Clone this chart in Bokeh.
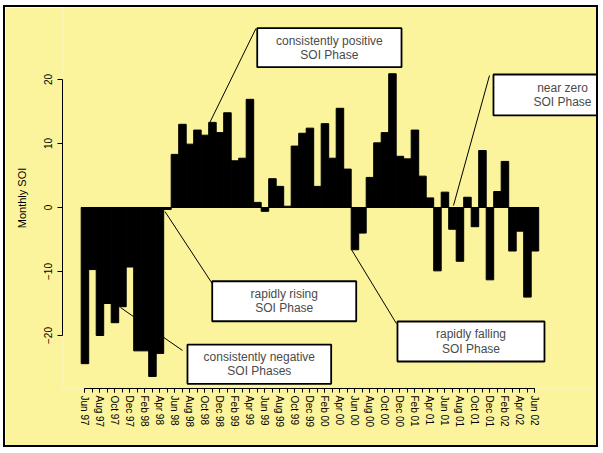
from bokeh.plotting import figure
from bokeh.models import Range1d, FixedTicker, ColumnDataSource
from bokeh.core.properties import value
from bokeh.embed import file_html
from bokeh.resources import INLINE

# ---------------- data ----------------
months = ["Jun 97", "Jul 97", "Aug 97", "Sep 97", "Oct 97", "Nov 97", "Dec 97",
          "Jan 98", "Feb 98", "Mar 98", "Apr 98", "May 98", "Jun 98", "Jul 98",
          "Aug 98", "Sep 98", "Oct 98", "Nov 98", "Dec 98",
          "Jan 99", "Feb 99", "Mar 99", "Apr 99", "May 99", "Jun 99", "Jul 99",
          "Aug 99", "Sep 99", "Oct 99", "Nov 99", "Dec 99",
          "Jan 00", "Feb 00", "Mar 00", "Apr 00", "May 00", "Jun 00", "Jul 00",
          "Aug 00", "Sep 00", "Oct 00", "Nov 00", "Dec 00",
          "Jan 01", "Feb 01", "Mar 01", "Apr 01", "May 01", "Jun 01", "Jul 01",
          "Aug 01", "Sep 01", "Oct 01", "Nov 01", "Dec 01",
          "Jan 02", "Feb 02", "Mar 02", "Apr 02", "May 02", "Jun 02"]

soi = [-24.4, -9.7, -20.0, -15.0, -18.0, -15.5, -9.3,
       -22.4, -22.4, -26.4, -22.8, -0.3, 8.3, 13.0,
       9.9, 12.1, 11.3, 13.3, 11.7,
       14.8, 7.3, 7.7, 16.9, 0.8, -0.6, 4.5,
       3.3, 0.2, 9.6, 11.6, 12.4,
       3.3, 13.1, 7.7, 15.5, 6.0, -6.6, -4.0,
       4.7, 10.1, 11.7, 20.9, 8.0,
       7.6, 12.1, 4.9, 1.5, -9.9, 2.4, -3.4,
       -8.4, 1.6, -3.0, 8.9, -11.3,
       2.5, 7.2, -6.8, -3.7, -14.0, -6.8]

tick_labels = ["Jun 97", "Aug 97", "Oct 97", "Dec 97", "Feb 98", "Apr 98",
               "Jun 98", "Aug 98", "Oct 98", "Dec 98", "Feb 99", "Apr 99",
               "Jun 99", "Aug 99", "Oct 99", "Dec 99", "Feb 00", "Apr 00",
               "Jun 00", "Aug 00", "Oct 00", "Dec 00", "Feb 01", "Apr 01",
               "Jun 01", "Aug 01", "Oct 01", "Dec 01", "Feb 02", "Apr 02",
               "Jun 02"]

y_ticks = [-20, -10, 0, 10, 20]

# annotation boxes: (left, right, bottom, top, line1, line2, text_x)
notes = [
    (22.97, 42.21, 21.92, 28.02, "consistently positive", "SOI Phase", None),
    (54.47, 77.14, 14.38, 20.78, "near zero", "SOI Phase", 63.67),
    (16.97, 36.17, -17.77, -11.52, "rapidly rising", "SOI Phase", None),
    (13.67, 32.83, -27.55, -21.41, "consistently negative", "SOI Phases", None),
    (41.67, 61.27, -24.06, -17.81, "rapidly falling", "SOI Phase", None),
]
# leader lines: (x0, y0, x1, y1)
leaders = [
    (22.80, 27.97, 16.65, 13.28),
    (53.94, 20.63, 49.14, 0.31),
    (10.67, -0.63, 16.97, -11.88),
    (4.74, -15.63, 13.01, -22.34),
    (35.53, -6.56, 41.53, -18.13),
]

YELLOW = "#FBF49C"
FONT = "Liberation Sans"

idx = list(range(len(soi)))

p = figure(width=595, height=442, output_backend="svg", toolbar_location=None,
           x_range=Range1d(-2.993, 68.74), y_range=Range1d(-28.28, 31.25),
           min_border_left=57, min_border_right=0, min_border_top=0,
           min_border_bottom=61)
p.background_fill_color = YELLOW
p.border_fill_color = YELLOW
p.outline_line_color = None
p.xgrid.visible = False
p.ygrid.visible = False
p.styles = {"border": "2px solid black", "margin-left": "3px",
            "margin-top": "5px"}

# bars
src = ColumnDataSource(dict(x=idx, top=soi, month=months))
p.vbar(x="x", top="top", bottom=0, width=1.0, source=src,
       fill_color="black", line_color="black", line_width=1)
p.segment(x0=[idx[0] - 0.5], y0=[0], x1=[idx[-1] + 0.5], y1=[0],
          line_color="black", line_width=1)

# annotations
for (l, r, b, t, s1, s2, tx) in notes:
    p.quad(left=[l], right=[r], bottom=[b], top=[t], fill_color="white",
           line_color="black", line_width=1.8)
    cx = tx if tx is not None else (l + r) / 2
    cy = (b + t) / 2
    dy = 1.1
    p.text(x=[cx, cx], y=[cy + dy, cy - dy], text=[s1, s2],
           text_align="center", text_baseline="middle",
           text_font=value(FONT), text_font_size="12px", text_color="#4a4a4a")
p.segment(x0=[a[0] for a in leaders], y0=[a[1] for a in leaders],
          x1=[a[2] for a in leaders], y1=[a[3] for a in leaders],
          line_color="black", line_width=1)

# y axis
ya = p.yaxis[0]
ya.ticker = FixedTicker(ticks=y_ticks, minor_ticks=[])
ya.bounds = (y_ticks[0], y_ticks[-1])
ya.major_label_orientation = "vertical"
ya.major_tick_out = 5
ya.major_tick_in = 0
ya.minor_tick_out = 0
ya.minor_tick_in = 0
ya.major_label_standoff = 5
ya.major_label_text_font = FONT
ya.major_label_text_font_size = "10px"
ya.major_label_text_color = "black"
ya.axis_label = "Monthly SOI"
ya.axis_label_text_font = FONT
ya.axis_label_text_font_size = "11px"
ya.axis_label_text_font_style = "normal"
ya.axis_label_text_color = "black"
ya.axis_label_standoff = 14
ya.axis_line_color = "black"

# x axis
xa = p.xaxis[0]
xa.ticker = FixedTicker(ticks=[2 * i for i in range(len(tick_labels))],
                        minor_ticks=idx)
xa.major_label_overrides = {2 * i: lab for i, lab in enumerate(tick_labels)}
xa.bounds = (idx[0], idx[-1])
xa.major_label_orientation = "vertical"
xa.major_tick_out = 4
xa.major_tick_in = 0
xa.minor_tick_out = 4
xa.minor_tick_in = 0
xa.major_label_standoff = 3
xa.major_label_text_font = FONT
xa.major_label_text_font_size = "10px"
xa.major_label_text_color = "black"
xa.axis_line_color = "black"

open("out.html", "w").write(file_html(p, INLINE))
